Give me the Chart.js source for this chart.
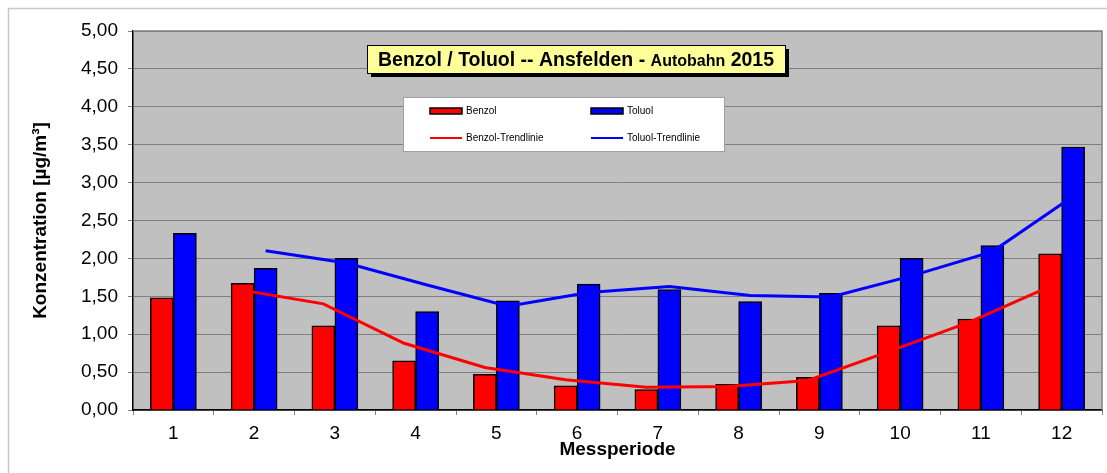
<!DOCTYPE html>
<html>
<head>
<meta charset="utf-8">
<script src="https://cdn.jsdelivr.net/npm/chart.js@4/dist/chart.umd.min.js"></script>
<style>
  body { margin: 0; background: #fff; }
</style>
</head>
<body>
<canvas id="chart" width="1107" height="473"></canvas>
<script>
// values
const periods = ["1", "2", "3", "4", "5", "6", "7", "8", "9", "10", "11", "12"];
const benzol = [1.48, 1.67, 1.11, 0.65, 0.47, 0.32, 0.27, 0.34, 0.43, 1.11, 1.20, 2.06];
const toluol = [2.33, 1.87, 2.00, 1.30, 1.44, 1.66, 1.59, 1.43, 1.54, 2.00, 2.17, 3.47];
const benzolTrend = [null, 1.58, 1.40, 0.88, 0.56, 0.40, 0.30, 0.31, 0.39, 0.77, 1.16, 1.63];
const toluolTrend = [null, 2.10, 1.94, 1.65, 1.37, 1.55, 1.63, 1.51, 1.49, 1.77, 2.09, 2.82];
const yTicks = [0, 0.5, 1, 1.5, 2, 2.5, 3, 3.5, 4, 4.5, 5];

const FONT = "'Liberation Sans', Arial, sans-serif";
// each bar is this fraction of a category wide; red left of centre, blue right
const barShift = 0.1425;

// bars and trend lines share one hidden linear axis, so a series sits
// at its own bar centre; the visible category axis only gives labels/ticks
function points(arr, shift) {
  const pts = [];
  arr.forEach((v, i) => {
    if (v !== null) pts.push({ x: i + 1 + shift, y: v });
  });
  return pts;
}

const framePlugin = {
  id: "frame",
  beforeDraw(chart) {
    const { ctx, chartArea: a } = chart;
    ctx.save();
    ctx.fillStyle = "#fff";
    ctx.fillRect(0, 0, chart.width, chart.height);
    ctx.strokeStyle = "#c8c8c8";
    ctx.lineWidth = 1.5;
    ctx.strokeRect(8.5, 8.5, chart.width + 20, chart.height + 20);
    ctx.fillStyle = "#c0c0c0";
    ctx.fillRect(a.left, a.top, a.right - a.left, a.bottom - a.top);
    ctx.restore();
  },
  beforeDatasetsDraw(chart) {
    const { ctx, chartArea: a } = chart;
    ctx.save();
    ctx.strokeStyle = "#808080";
    ctx.lineWidth = 1.5;
    ctx.beginPath();
    ctx.moveTo(a.left, a.top);
    ctx.lineTo(a.right, a.top);
    ctx.lineTo(a.right, a.bottom);
    ctx.stroke();
    ctx.restore();
  },
  afterDraw(chart) {
    const ctx = chart.ctx;
    ctx.save();

    // title box
    const bx = 367, by = 45, bw = 418, bh = 28;
    ctx.fillStyle = "#000";
    ctx.fillRect(bx + 4, by + 4, bw, bh);
    ctx.fillStyle = "#ffff99";
    ctx.fillRect(bx, by, bw, bh);
    ctx.strokeStyle = "#000";
    ctx.lineWidth = 1;
    ctx.strokeRect(bx + 0.5, by + 0.5, bw, bh);

    const parts = [
      ["Benzol / Toluol -- Ansfelden - ", "bold 19.5px " + FONT],
      ["Autobahn", "bold 16px " + FONT],
      [" 2015", "bold 19.5px " + FONT],
    ];
    let total = 0;
    parts.forEach(p => { ctx.font = p[1]; total += ctx.measureText(p[0]).width; });
    let tx = bx + (bw - total) / 2;
    ctx.textBaseline = "alphabetic";
    ctx.fillStyle = "#000";
    parts.forEach(p => {
      ctx.font = p[1];
      ctx.fillText(p[0], tx, by + 21);
      tx += ctx.measureText(p[0]).width;
    });

    // legend box
    const lx = 403, ly = 97, lw = 321, lh = 54;
    ctx.fillStyle = "#fff";
    ctx.fillRect(lx, ly, lw, lh);
    ctx.strokeStyle = "#a0a0a0";
    ctx.strokeRect(lx + 0.5, ly + 0.5, lw, lh);

    const ds = chart.data.datasets;
    const cols = [430, 591];
    const rows = [111, 138];
    ctx.font = "10px " + FONT;
    ctx.textBaseline = "middle";
    ds.forEach((d, i) => {
      const x = cols[i % 2], y = rows[Math.floor(i / 2)];
      if (d.type === "line") {
        ctx.strokeStyle = d.borderColor;
        ctx.lineWidth = 2;
        ctx.beginPath();
        ctx.moveTo(x, y);
        ctx.lineTo(x + 32, y);
        ctx.stroke();
      } else {
        ctx.fillStyle = d.backgroundColor;
        ctx.fillRect(x, y - 3, 32, 6);
        ctx.strokeStyle = "#000";
        ctx.lineWidth = 1.5;
        ctx.strokeRect(x, y - 3, 32, 6);
      }
      ctx.fillStyle = "#000";
      ctx.fillText(d.label, x + 36, y);
    });
    ctx.restore();
  }
};

new Chart(document.getElementById("chart"), {
  data: {
    labels: periods,
    datasets: [
      {
        type: "bar", label: "Benzol", data: points(benzol, -barShift), order: 2,
        backgroundColor: "#ff0000", borderColor: "#000", borderWidth: 1.5,
        grouped: false, categoryPercentage: 1, barPercentage: 1,
        xAxisID: "x", yAxisID: "y"
      },
      {
        type: "bar", label: "Toluol", data: points(toluol, barShift), order: 2,
        backgroundColor: "#0000ff", borderColor: "#000", borderWidth: 1.5,
        grouped: false, categoryPercentage: 1, barPercentage: 1,
        xAxisID: "x", yAxisID: "y"
      },
      {
        type: "line", label: "Benzol-Trendlinie", data: points(benzolTrend, -barShift), order: 1,
        borderColor: "#ff0000", borderWidth: 3, pointRadius: 0, tension: 0,
        xAxisID: "x", yAxisID: "y"
      },
      {
        type: "line", label: "Toluol-Trendlinie", data: points(toluolTrend, barShift), order: 1,
        borderColor: "#0000ff", borderWidth: 3, pointRadius: 0, tension: 0,
        xAxisID: "x", yAxisID: "y"
      }
    ]
  },
  options: {
    responsive: false,
    animation: false,
    devicePixelRatio: 1,
    layout: { padding: { top: 31, right: 5, bottom: 0, left: 0 } },
    plugins: { legend: { display: false }, tooltip: { enabled: false } },
    scales: {
      x: { type: "linear", display: false, offset: false, min: 0.5, max: 12.5 },
      xc: {
        type: "category",
        position: "bottom",
        offset: true,
        grid: { offset: true, drawOnChartArea: false, tickLength: 5, color: "#808080" },
        border: { color: "#000", width: 1.5 },
        ticks: { color: "#000", font: { family: FONT, size: 19 }, padding: 7, maxRotation: 0 },
        title: {
          display: true, text: "Messperiode", color: "#000",
          font: { family: FONT, size: 19, weight: "bold" }, padding: { top: 0, bottom: 12 }
        },
        afterFit(s) { s.height = 63; }
      },
      y: {
        min: 0, max: 5,
        afterBuildTicks(s) { s.ticks = yTicks.map(v => ({ value: v })); },
        grid: { color: "#808080", tickLength: 5 },
        border: { color: "#000", width: 1.5 },
        ticks: {
          color: "#000", font: { family: FONT, size: 19 }, padding: 10,
          callback: v => v.toFixed(2).replace(".", ",")
        },
        title: {
          display: true, text: "Konzentration [µg/m³]", color: "#000",
          font: { family: FONT, size: 19, weight: "bold" }, padding: { top: 29, bottom: 0 }
        },
        afterFit(s) { s.width = 133; }
      }
    }
  },
  plugins: [framePlugin]
});
</script>
</body>
</html>
